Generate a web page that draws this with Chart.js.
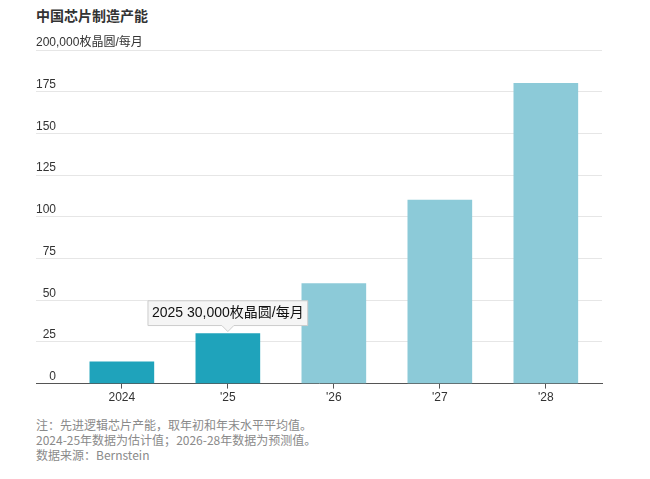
<!DOCTYPE html>
<html lang="zh">
<head>
<meta charset="utf-8">
<script src="https://cdn.jsdelivr.net/npm/chart.js@4/dist/chart.umd.min.js"></script>
<style>
  body { margin: 0; background: #fff; width: 650px; height: 479px; overflow: hidden; position: relative;
         font-family: "Liberation Sans", "Noto Sans CJK SC", sans-serif; }
  #title { position: absolute; left: 36px; top: 5px; font-size: 14px; font-weight: bold; color: #333; }
  #wrap { position: absolute; left: 0; top: 0; width: 650px; height: 407px; }
  #notes { position: absolute; left: 36px; top: 417px; font-size: 12px; line-height: 15px; color: #8a8a8a;
           font-family: "Noto Sans CJK SC", "Noto Sans", sans-serif; }
</style>
</head>
<body>
<div id="title">中国芯片制造产能</div>
<div id="wrap"><canvas id="chipChart"></canvas></div>
<div id="notes">
  注：先进逻辑芯片产能，取年初和年末水平平均值。<br>
  2024-25年数据为估计值；2026-28年数据为预测值。<br>
  数据来源：Bernstein
</div>
<script>
// 數據（千枚晶圓/每月）
const categories = ['2024', "'25", "'26", "'27", "'28"];
const capacity = [13, 30, 60, 110, 180];
const isEstimate = [true, true, false, false, false];
const yTickValues = [0, 25, 50, 75, 100, 125, 150, 175, 200];
const unitLabel = '200,000枚晶圆/每月';
const tooltipText = '2025 30,000枚晶圆/每月';

const FONT = '"Liberation Sans", "Noto Sans CJK SC", sans-serif';

const points = capacity.map((v, i) => ({ x: i, y: v }));
const colors = isEstimate.map(e => e ? '#1fa3bb' : '#8ccad8');

// 數字刻度靠右對齊：用 figure space 補齊到三位
const yLabel = v => v === 200 ? unitLabel : String(v).padStart(3, '\u2007');

const ctx = document.getElementById('chipChart').getContext('2d');
const chipChart = new Chart(ctx, {
    type: 'bar',
    data: {
        datasets: [{
            data: points,
            backgroundColor: colors,
            barThickness: 64
        }]
    },
    options: {
        responsive: true,
        maintainAspectRatio: false,
        animation: false,
        events: [],
        layout: { padding: { top: 50, left: 36, right: 48, bottom: 0 } },
        scales: {
            x: {
                type: 'linear',
                offset: false,
                min: -0.81,
                max: 4.53,
                afterBuildTicks: axis => { axis.ticks = categories.map((c, i) => ({ value: i })); },
                ticks: {
                    color: '#333',
                    font: { family: FONT, size: 12 },
                    padding: 2,
                    maxRotation: 0,
                    callback: v => categories[v]
                },
                grid: { offset: false, drawOnChartArea: false, drawTicks: true, tickLength: 5, color: '#555' },
                border: { display: true, color: '#555', width: 1 }
            },
            y: {
                min: 0,
                max: 200,
                afterBuildTicks: axis => { axis.ticks = yTickValues.map(v => ({ value: v })); },
                afterFit: axis => { axis.width = 0; },
                ticks: {
                    mirror: true,
                    padding: 0,
                    labelOffset: -7,
                    color: '#333',
                    font: { family: FONT, size: 12 },
                    callback: yLabel
                },
                grid: { color: '#e6e6e6', drawTicks: false },
                border: { display: false }
            }
        },
        plugins: {
            legend: { display: false },
            tooltip: {
                enabled: true,
                backgroundColor: '#f5f5f5',
                borderColor: '#cccccc',
                borderWidth: 1,
                bodyColor: '#111',
                bodyFont: { family: FONT, size: 14 },
                displayColors: false,
                cornerRadius: 0,
                caretSize: 6,
                padding: { top: 4, bottom: 4, left: 4, right: 4 },
                xAlign: 'center',
                yAlign: 'bottom',
                callbacks: {
                    title: () => '',
                    label: () => tooltipText
                }
            }
        }
    }
});

// 預設顯示 2025 的提示框
chipChart.tooltip.setActiveElements([{ datasetIndex: 0, index: 1 }], { x: 0, y: 0 });
chipChart.update();
</script>
</body>
</html>
